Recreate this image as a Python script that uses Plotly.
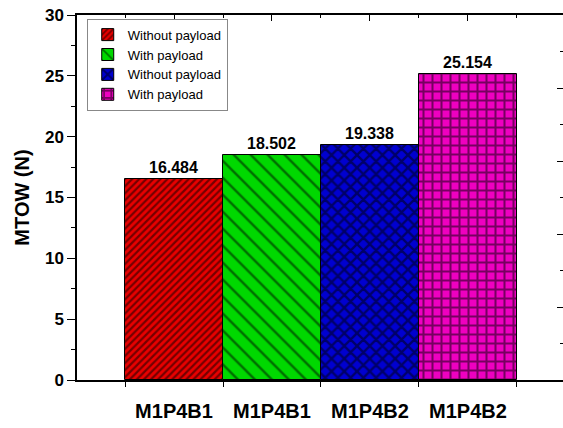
import plotly.graph_objects as go

# Maximum take-off weight for each configuration
categories = ["M1P4B1", "M1P4B1", "M1P4B2", "M1P4B2"]
legend_names = ["Without payload", "With payload", "Without payload", "With payload"]
mtow = [16.484, 18.502, 19.338, 25.154]

fill_colors = ["#E80000", "#00D800", "#0000D0", "#EE00C0"]
hatch_shapes = ["/", "\\", "x", "+"]
hatch_sizes = [5, 12, 9, 9]
hatch_solidity = [0.45, 0.2, 0.45, 0.4]

FONT = "Liberation Sans"
positions = list(range(len(categories)))
boundaries = [p - 0.5 for p in positions] + [positions[-1] + 0.5]
x_range = [-0.99, 3.97]

fig = go.Figure()
for i, pos in enumerate(positions):
    fig.add_trace(go.Bar(
        x=[pos], y=[mtow[i]], name=legend_names[i], width=1.0,
        marker=dict(
            color=fill_colors[i],
            line=dict(color="black", width=1),
            pattern=dict(shape=hatch_shapes[i], fgcolor="black",
                         bgcolor=fill_colors[i], size=hatch_sizes[i],
                         solidity=hatch_solidity[i], fillmode="overlay"),
        ),
        text=[f"{mtow[i]:.3f}"], textposition="outside", cliponaxis=False,
        textfont=dict(family=FONT, size=16, color="black", weight="bold"),
    ))

# invisible companions so the mirrored top and right axes get drawn
fig.add_trace(go.Scatter(x=positions, y=mtow, xaxis="x2", yaxis="y",
                         mode="none", showlegend=False, hoverinfo="skip"))
fig.add_trace(go.Scatter(x=positions, y=mtow, xaxis="x", yaxis="y2",
                         mode="none", showlegend=False, hoverinfo="skip"))

fig.update_layout(
    width=563, height=428,
    margin=dict(l=77, r=0, t=15, b=48),
    plot_bgcolor="white", paper_bgcolor="white",
    barmode="overlay", bargap=0,
    showlegend=True,
    legend=dict(
        x=0.02, y=0.99, xanchor="left", yanchor="top",
        bgcolor="white", bordercolor="#888888", borderwidth=1,
        font=dict(family=FONT, size=13, color="black"),
        tracegroupgap=0, itemwidth=30,
    ),
    xaxis=dict(
        range=x_range, tickvals=positions, ticktext=categories,
        ticks="outside", ticklen=12, tickcolor="rgba(0,0,0,0)",
        tickfont=dict(family=FONT, size=20, color="black", weight="bold"),
        showline=True, linecolor="black", linewidth=1.5,
        showgrid=False, zeroline=False,
        minor=dict(tickmode="array", tickvals=boundaries, ticks="outside",
                   ticklen=5, tickcolor="black", tickwidth=1.2, showgrid=False),
    ),
    xaxis2=dict(
        range=x_range, overlaying="x", side="top", anchor="y",
        tickvals=positions, showticklabels=False,
        ticks="inside", ticklen=6, tickcolor="black", tickwidth=1.2,
        showline=True, linecolor="black", linewidth=1.5,
        showgrid=False, zeroline=False,
        minor=dict(tickmode="array", tickvals=boundaries, ticks="inside",
                   ticklen=3, tickcolor="black", tickwidth=1.2, showgrid=False),
    ),
    yaxis=dict(
        range=[0, 30], dtick=5, tick0=0,
        ticks="outside", ticklen=8, tickcolor="black", tickwidth=1.2,
        tickfont=dict(family=FONT, size=17, color="black", weight="bold"),
        showline=True, linecolor="black", linewidth=1.5,
        showgrid=False, zeroline=False,
        minor=dict(dtick=2.5, ticks="outside", ticklen=4,
                   tickcolor="black", tickwidth=1.2, showgrid=False),
        title=dict(text="MTOW (N)", standoff=10,
                   font=dict(family=FONT, size=20, color="black", weight="bold")),
    ),
    yaxis2=dict(
        range=[0, 5], dtick=1, tick0=0, overlaying="y", side="right", anchor="x",
        showticklabels=False, showline=False, showgrid=False, zeroline=False,
        ticks="inside", ticklen=6, tickcolor="black", tickwidth=1.2,
        minor=dict(dtick=0.5, ticks="inside", ticklen=3,
                   tickcolor="black", tickwidth=1.2, showgrid=False),
    ),
)

fig.write_html("out.html")
